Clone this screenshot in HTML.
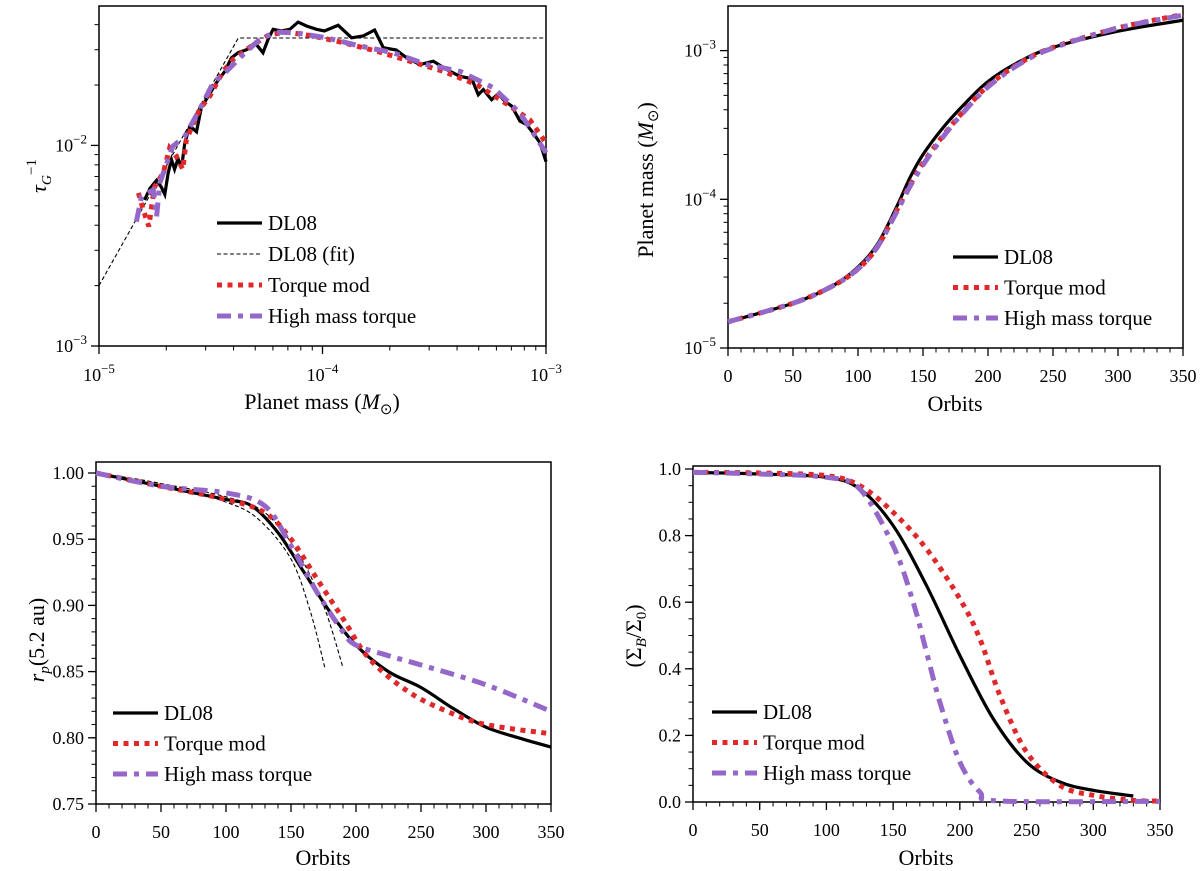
<!DOCTYPE html>
<html><head><meta charset="utf-8"><style>
body{margin:0;background:#fff}
svg{display:block;font-family:"Liberation Serif",serif}
</style></head><body>
<svg id="fig" width="1200" height="871" viewBox="0 0 1200 871"></svg>
<script>
// ---- Panel A: tau_G^-1 vs planet mass ----
const aDlM=[1.60e-5,1.69e-5,1.81e-5,1.90e-5,1.97e-5,2.04e-5,2.11e-5,2.18e-5,2.26e-5,2.34e-5,2.42e-5,2.55e-5,2.73e-5,2.87e-5,3.08e-5,3.35e-5,3.66e-5,3.91e-5,4.19e-5,4.57e-5,4.98e-5,5.42e-5,5.71e-5,6.01e-5,6.55e-5,7.14e-5,7.78e-5,8.48e-5,9.4e-5,1.02e-4,1.175e-4,1.35e-4,1.52e-4,1.71e-4,1.87e-4,2.14e-4,2.38e-4,2.73e-4,3.13e-4,3.59e-4,4.12e-4,4.65e-4,4.98e-4,5.24e-4,5.71e-4,6.12e-4,6.55e-4,7.02e-4,7.65e-4,8.19e-4,8.77e-4,9.4e-4,1e-3];
const aDlT=[5.35e-3,6.1e-3,6.7e-3,6.2e-3,5.7e-3,7.3e-3,8.5e-3,7.6e-3,8.6e-3,7.7e-3,1.03e-2,1.25e-2,1.17e-2,1.54e-2,1.76e-2,2.05e-2,2.34e-2,2.73e-2,2.9e-2,3.0e-2,3.25e-2,2.9e-2,3.38e-2,3.79e-2,3.72e-2,3.79e-2,4.12e-2,3.94e-2,3.79e-2,3.72e-2,3.97e-2,3.44e-2,3.51e-2,3.76e-2,3.07e-2,2.99e-2,2.73e-2,2.53e-2,2.63e-2,2.39e-2,2.21e-2,2.15e-2,1.79e-2,1.9e-2,1.69e-2,1.81e-2,1.66e-2,1.57e-2,1.32e-2,1.27e-2,1.15e-2,1.03e-2,8.3e-3];
const aFitM=[1e-5,4.2e-5,1e-3];
const aFitT=[2.0e-3,3.43e-2,3.43e-2];
const aTqM=[1.50e-5,1.57e-5,1.67e-5,1.77e-5,1.94e-5,2.07e-5,2.22e-5,2.37e-5,2.46e-5,2.82e-5,3.13e-5,3.59e-5,3.98e-5,4.9e-5,5.8e-5,6.9e-5,9.08e-5,1.24e-4,1.75e-4,2.46e-4,3.47e-4,4.9e-4,6.9e-4,8.47e-4,1e-3];
const aTqT=[5.8e-3,4.86e-3,3.94e-3,6.2e-3,7.3e-3,9.7e-3,8.8e-3,7.6e-3,1.07e-2,1.51e-2,1.76e-2,2.34e-2,2.68e-2,3.18e-2,3.57e-2,3.67e-2,3.51e-2,3.25e-2,2.95e-2,2.63e-2,2.34e-2,2.01e-2,1.57e-2,1.34e-2,1.03e-2];
const aHmM=[1.47e-5,1.55e-5,1.75e-5,1.81e-5,1.87e-5,2.14e-5,2.42e-5,2.82e-5,3.24e-5,3.72e-5,4.42e-5,5.24e-5,6.22e-5,7.65e-5,1.04e-4,1.47e-4,2.07e-4,2.92e-4,4.12e-4,5.81e-4,7.65e-4,8.77e-4,1e-3];
const aHmT=[4.17e-3,5.56e-3,6.0e-3,4.42e-3,6.5e-3,9.9e-3,1.11e-2,1.51e-2,2.05e-2,2.34e-2,2.84e-2,3.38e-2,3.67e-2,3.64e-2,3.44e-2,3.13e-2,2.9e-2,2.53e-2,2.34e-2,1.94e-2,1.45e-2,1.15e-2,9.2e-3];
// ---- Panel B: planet mass vs orbits ----
const bDlO=[0,50,80,100,115,130,140,150,165,180,200,225,250,300,350];
const bDlM=[1.5e-5,2.0e-5,2.6e-5,3.5e-5,5e-5,9e-5,1.4e-4,2.0e-4,3.0e-4,4.2e-4,6.2e-4,8.5e-4,1.05e-3,1.35e-3,1.6e-3];
const bTqO=[0,50,80,100,115,130,140,150,165,180,200,225,250,300,350];
const bTqM=[1.5e-5,2.0e-5,2.6e-5,3.4e-5,4.8e-5,8.5e-5,1.25e-4,1.75e-4,2.65e-4,3.8e-4,5.8e-4,8.3e-4,1.05e-3,1.42e-3,1.75e-3];
const bHmO=[0,50,80,100,115,130,140,150,165,180,200,225,250,300,350];
const bHmM=[1.5e-5,2.0e-5,2.6e-5,3.4e-5,4.8e-5,8.3e-5,1.22e-4,1.7e-4,2.6e-4,3.75e-4,5.7e-4,8.2e-4,1.04e-3,1.42e-3,1.73e-3];
// ---- Panel C: r_p vs orbits ----
const cDlO=[0,50,100,120,140,160,180,200,225,250,275,300,325,350];
const cDlR=[1.0,0.99,0.98,0.975,0.955,0.925,0.895,0.87,0.85,0.838,0.822,0.808,0.8,0.793];
const cTqO=[0,50,100,130,150,170,190,210,240,270,300,350];
const cTqR=[1.0,0.99,0.98,0.97,0.95,0.92,0.89,0.86,0.835,0.82,0.81,0.803];
const cHmO=[0,50,100,130,150,170,190,200,225,250,300,350];
const cHmR=[1.0,0.99,0.985,0.975,0.945,0.91,0.88,0.87,0.862,0.855,0.84,0.82];
const cF1O=[0,50,100,125,150,165,176];
const cF1R=[1.0,0.992,0.978,0.965,0.935,0.895,0.853];
const cF2O=[0,50,100,130,155,175,190];
const cF2R=[1.0,0.992,0.982,0.97,0.94,0.9,0.853];
// ---- Panel D: Sigma_B/Sigma_0 vs orbits ----
const dDlO=[0,50,100,125,150,175,200,225,250,275,300,330];
const dDlS=[0.99,0.985,0.975,0.94,0.83,0.65,0.44,0.25,0.12,0.06,0.035,0.018];
const dTqO=[0,50,100,125,150,175,200,215,230,250,275,300,330,350];
const dTqS=[0.99,0.988,0.98,0.95,0.87,0.76,0.61,0.49,0.32,0.15,0.05,0.02,0.005,0.003];
const dHmO=[0,50,100,125,150,165,175,185,200,215,230,350];
const dHmS=[0.99,0.985,0.975,0.94,0.77,0.6,0.45,0.3,0.12,0.03,0.003,0.002];
const orbitTicks=[0,50,100,150,200,250,300,350];
const cTicks=[0.75,0.80,0.85,0.90,0.95,1.00];
const dTicks=[0.0,0.2,0.4,0.6,0.8,1.0];

const NS="http://www.w3.org/2000/svg";
const svg=document.getElementById('fig');
const TF=18, LF=21, AF=22;
function mk(tag,attrs,parent){const e=document.createElementNS(NS,tag);for(const k in attrs)e.setAttribute(k,attrs[k]);(parent||svg).appendChild(e);return e;}
function scale(d0,d1,p0,p1,log){return v=>{const a=log?Math.log10(v):v;return p0+(a-d0)/(d1-d0)*(p1-p0);};}
const STY={
 dl:{stroke:'#000','stroke-width':3.2,fill:'none'},
 fit:{stroke:'#000','stroke-width':1.1,fill:'none','stroke-dasharray':'4,2.5'},
 tq:{stroke:'#e0282a','stroke-width':5,fill:'none','stroke-dasharray':'5,5.5'},
 hm:{stroke:'#9467c8','stroke-width':5,fill:'none','stroke-dasharray':'14,7,5,7'}
};
function pathD(pts,smooth){
 if(!smooth)return 'M'+pts.map(p=>p[0].toFixed(1)+','+p[1].toFixed(1)).join('L');
 let d='M'+pts[0][0]+','+pts[0][1];
 for(let i=0;i<pts.length-1;i++){const p0=pts[i-1]||pts[i],p1=pts[i],p2=pts[i+1],p3=pts[i+2]||p2;
  d+='C'+(p1[0]+(p2[0]-p0[0])/6)+','+(p1[1]+(p2[1]-p0[1])/6)+' '+(p2[0]-(p3[0]-p1[0])/6)+','+(p2[1]-(p3[1]-p1[1])/6)+' '+p2[0]+','+p2[1];}
 return d;}
function series(g,xs,ys,sx,sy,sty,name,smooth){
 const pts=xs.map((x,i)=>[sx(x),sy(ys[i])]);
 const p=mk('path',Object.assign({d:pathD(pts,smooth)},STY[sty]),g);
 
 
}
function txt(g,x,y,s,attrs,name){const t=mk('text',Object.assign({x:x,y:y,'font-size':TF,fill:'#000'},attrs||{}),g);t.textContent=s;
 
 
 return t;}
function pow10(g,x,y,e,anchor,name){const t=mk('text',{x:x,y:y,'font-size':TF,'text-anchor':anchor},g);
 
 
 const a=mk('tspan',{},t);a.textContent='10';const b=mk('tspan',{dy:-8,'font-size':13});t.appendChild(b);b.textContent='−'+Math.abs(e);}
function panel(name){const g=mk('g',{});return g;}
function frame(g,b){const r=mk('rect',{x:b.x0,y:b.y0,width:b.x1-b.x0,height:b.y1-b.y0,fill:'none',stroke:'#000','stroke-width':1.5},g);
 }
function tick(g,x1,y1,x2,y2,w){mk('line',{x1:x1,y1:y1,x2:x2,y2:y2,stroke:'#000','stroke-width':w||1.3},g);}
function legend(g,x,y0,dy,items){const lg=mk('g',{},g);
 items.forEach((it,i)=>{const y=y0+i*dy;const l=mk('line',Object.assign({x1:x,y1:y,x2:x+45,y2:y},STY[it[0]]),lg);
  
  txt(lg,x+51,y+7,it[1],{'font-size':LF},'legend-entry-'+it[0]);});}
function linAxes(g,b,sx,sy,xt,xminor,yt,yminor,ydec){
 xt.forEach(v=>{tick(g,sx(v),b.y1,sx(v),b.y1+8);txt(g,sx(v),b.y1+34,String(v),{'text-anchor':'middle'},'x-tick-label');});
 for(let v=xt[0];v<=xt[xt.length-1];v+=xminor)tick(g,sx(v),b.y1,sx(v),b.y1+4.5,1);
 yt.forEach(v=>{tick(g,b.x0,sy(v),b.x0-8,sy(v));txt(g,b.x0-12,sy(v)+6,v.toFixed(ydec),{'text-anchor':'end'},'y-tick-label');});
 for(let v=yt[0];v<=yt[yt.length-1]+1e-9;v+=yminor)tick(g,b.x0,sy(v),b.x0-4.5,sy(v),1);
}
function logMinor(lo,hi,f){for(let e=Math.floor(lo);e<hi;e++)for(let k=2;k<=9;k++){const v=Math.log10(k)+e;if(v<hi+1e-9&&v>lo)f(Math.pow(10,v));}}

// Panel A
(function(){const b={x0:99,x1:546,y0:6,y1:346};const g=panel('panel-tau-vs-mass');
 const sx=scale(-5,-3,b.x0,b.x1,true),sy=scale(-3,-1.305,b.y1,b.y0,true);
 frame(g,b);
 [-5,-4,-3].forEach(e=>{tick(g,sx(10**e),b.y1,sx(10**e),b.y1+8);pow10(g,sx(10**e),b.y1+35,e,'middle','x-tick-label');});
 logMinor(-5,-3,v=>tick(g,sx(v),b.y1,sx(v),b.y1+4.5,1));
 [-3,-2].forEach(e=>{tick(g,b.x0,sy(10**e),b.x0-8,sy(10**e));pow10(g,b.x0-12,sy(10**e)+6,e,'end','y-tick-label');});
 logMinor(-3,-1.305,v=>tick(g,b.x0,sy(v),b.x0-4.5,sy(v),1));
 series(g,aFitM,aFitT,sx,sy,'fit','series-dl08-fit',false);
 series(g,aDlM,aDlT,sx,sy,'dl','series-dl08',false);
 series(g,aTqM,aTqT,sx,sy,'tq','series-torque-mod',false);
 series(g,aHmM,aHmT,sx,sy,'hm','series-high-mass-torque',false);
 const xl=txt(g,322,409,'Planet mass (',{'text-anchor':'middle','font-size':AF},'x-axis-title');const m=mk('tspan',{'font-style':'italic'},xl);m.textContent='M';const s=mk('tspan',{'font-size':15,dy:5},xl);s.textContent='⊙';const c=mk('tspan',{dy:-5},xl);c.textContent=')';
 const yl=txt(g,0,0,'τ',{'font-style':'italic','font-size':AF,'transform':'translate(46,176) rotate(-90)','text-anchor':'middle'},'y-axis-title');const s1=mk('tspan',{'font-size':14,dy:5},yl);s1.textContent='G';const s2=mk('tspan',{'font-size':15,dy:-15,'font-style':'normal'},yl);s2.textContent='−1';
 legend(g,217,223,31,[['dl','DL08'],['fit','DL08 (fit)'],['tq','Torque mod'],['hm','High mass torque']]);
})();
// Panel B
(function(){const b={x0:728,x1:1183,y0:6,y1:348};const g=panel('panel-mass-vs-orbits');
 const sx=scale(0,350,b.x0,b.x1,false),sy=scale(-5,-2.70,b.y1,b.y0,true);
 frame(g,b);
 orbitTicks.forEach(v=>{tick(g,sx(v),b.y1,sx(v),b.y1+8);txt(g,sx(v),b.y1+34,String(v),{'text-anchor':'middle'},'x-tick-label');});
 for(let v=0;v<=350;v+=10)tick(g,sx(v),b.y1,sx(v),b.y1+4.5,1);
 [-5,-4,-3].forEach(e=>{tick(g,b.x0,sy(10**e),b.x0-8,sy(10**e));pow10(g,b.x0-12,sy(10**e)+6,e,'end','y-tick-label');});
 logMinor(-5,-2.70,v=>tick(g,b.x0,sy(v),b.x0-4.5,sy(v),1));
 series(g,bDlO,bDlM,sx,sy,'dl','series-dl08',true);
 series(g,bTqO,bTqM,sx,sy,'tq','series-torque-mod',true);
 series(g,bHmO,bHmM,sx,sy,'hm','series-high-mass-torque',true);
 txt(g,955,411,'Orbits',{'text-anchor':'middle','font-size':AF},'x-axis-title');
 const yl=txt(g,0,0,'Planet mass (',{'font-size':AF,'transform':'translate(653,180) rotate(-90)','text-anchor':'middle'},'y-axis-title');const m=mk('tspan',{'font-style':'italic'},yl);m.textContent='M';const s=mk('tspan',{'font-size':15,dy:5},yl);s.textContent='⊙';const c=mk('tspan',{dy:-5},yl);c.textContent=')';
 legend(g,953,257,30.5,[['dl','DL08'],['tq','Torque mod'],['hm','High mass torque']]);
})();
// Panel C
(function(){const b={x0:96,x1:551,y0:462,y1:804};const g=panel('panel-rp-vs-orbits');
 const sx=scale(0,350,b.x0,b.x1,false),sy=scale(0.75,1.0,804,473,false);
 frame(g,b);
 linAxes(g,b,sx,sy,orbitTicks,10,cTicks,0.01,2);
 series(g,cF1O,cF1R,sx,sy,'fit','series-dl08-fit-1',true);
 series(g,cF2O,cF2R,sx,sy,'fit','series-dl08-fit-2',true);
 series(g,cDlO,cDlR,sx,sy,'dl','series-dl08',true);
 series(g,cTqO,cTqR,sx,sy,'tq','series-torque-mod',true);
 series(g,cHmO,cHmR,sx,sy,'hm','series-high-mass-torque',true);
 txt(g,323,865,'Orbits',{'text-anchor':'middle','font-size':AF},'x-axis-title');
 const yl=txt(g,0,0,'r',{'font-style':'italic','font-size':AF,'transform':'translate(44,640) rotate(-90)','text-anchor':'middle'},'y-axis-title');const s=mk('tspan',{'font-size':15,dy:5},yl);s.textContent='p';const c=mk('tspan',{dy:-5,'font-style':'normal'},yl);c.textContent='(5.2 au)';
 legend(g,113,713,30.5,[['dl','DL08'],['tq','Torque mod'],['hm','High mass torque']]);
})();
// Panel D
(function(){const b={x0:693,x1:1160,y0:466,y1:802};const g=panel('panel-sigma-vs-orbits');
 const sx=scale(0,350,b.x0,b.x1,false),sy=scale(0,1,802,469,false);
 frame(g,b);
 linAxes(g,b,sx,sy,orbitTicks,10,dTicks,0.05,1);
 series(g,dDlO,dDlS,sx,sy,'dl','series-dl08',true);
 series(g,dTqO,dTqS,sx,sy,'tq','series-torque-mod',true);
 series(g,dHmO,dHmS,sx,sy,'hm','series-high-mass-torque',true);
 txt(g,926,865,'Orbits',{'text-anchor':'middle','font-size':AF},'x-axis-title');
 const yl=txt(g,0,0,'(Σ',{'font-size':AF,'transform':'translate(641,636) rotate(-90)','text-anchor':'middle'},'y-axis-title');const s=mk('tspan',{'font-size':15,dy:5,'font-style':'italic'},yl);s.textContent='B';const c=mk('tspan',{dy:-5},yl);c.textContent='/Σ';const s2=mk('tspan',{'font-size':15,dy:5},yl);s2.textContent='0';const c2=mk('tspan',{dy:-5},yl);c2.textContent=')';
 legend(g,712,712,30.5,[['dl','DL08'],['tq','Torque mod'],['hm','High mass torque']]);
})();
</script>
</body></html>
